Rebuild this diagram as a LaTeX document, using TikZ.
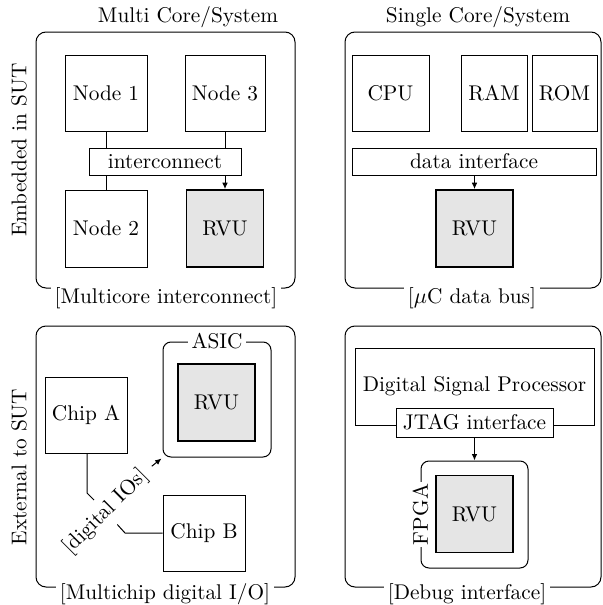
\documentclass[tikz,border=0pt]{standalone}
\usetikzlibrary{arrows.meta}
\begin{document}
\begin{tikzpicture}[x=0.5pt,y=-0.5pt,
  font=\fontsize{10.65}{13}\selectfont,
  line width=0.5pt,
  panel/.style={draw,rounded corners=5pt},
  plabel/.style={fill=white,inner sep=2pt},
  box/.style={draw,inner sep=0pt,align=center},
  rvu/.style={draw,fill=black!10,line width=0.9pt,inner sep=0pt,minimum width=38.5pt,minimum height=38.5pt},
  sub/.style={draw,rounded corners=4pt,inner sep=0pt},
  arr/.style={-{Latex[length=3.2pt,width=2.8pt]}}]
\useasboundingbox (0,0) rectangle (602,605);

% panels
\draw[panel] (36,32) rectangle (295,288);
\draw[panel] (345,32) rectangle (601,288);
\draw[panel] (36,326) rectangle (295,587);
\draw[panel] (345,326) rectangle (601,587);

\node (t1) at (188,17) {Multi Core/System};
\node (t2) at (478,17) {Single Core/System};
\node[plabel] (b1) at (166,298) {[Multicore interconnect]};
\node[plabel] (b2) at (472,298) {[$\mu$C data bus]};
\node[plabel] (b3) at (165,594) {[Multichip digital I/O]};
\node[plabel] (b4) at (467,594) {[Debug interface]};
\node[rotate=90] (s1) at (19,150) {Embedded in SUT};
\node[rotate=90] (s2) at (19,467) {External to SUT};

% top-left
\node[box,minimum width=41pt,minimum height=38pt] (n1) at (106,93) {Node 1};
\node[box,minimum width=40pt,minimum height=38pt] (n3) at (225,93) {Node 3};
\node[box,minimum width=76pt,minimum height=13.5pt] (ic) at (165,161.5) {interconnect};
\node[box,minimum width=41pt,minimum height=38.5pt] (n2) at (106,228.5) {Node 2};
\node[rvu] (r1) at (225,228.5) {RVU};
\draw (n1.south) -- (n1.south |- ic.north);
\draw (ic.south -| n2.north) -- (n2.north);
\draw (n3.south) -- (n3.south |- ic.north);
\draw[arr] (ic.south -| r1.north) -- (r1.north);

% top-right
\node[box,minimum width=38.5pt,minimum height=38pt] (cpu) at (390.5,93) {CPU};
\node[box,minimum width=33pt,minimum height=38pt] (ram) at (494,93) {RAM};
\node[box,minimum width=32.5pt,minimum height=38pt] (rom) at (564.5,93) {ROM};
\node[box,minimum width=122pt,minimum height=13.5pt] (di) at (474,161.5) {data interface};
\node[rvu] (r2) at (474.5,228.5) {RVU};
\draw[arr] (di.south -| r2.north) -- (r2.north);

% bottom-left
\node[box,minimum width=41pt,minimum height=38pt] (ca) at (86,415) {Chip A};
\node[box,minimum width=41pt,minimum height=38pt] (cb) at (204,533) {Chip B};
\node[sub,minimum width=54pt,minimum height=57.5pt] (asic) at (217,399.5) {};
\node[plabel] (asicl) at (asic.north) {ASIC};
\node[rvu] (r3) at (216.5,402.5) {RVU};
\coordinate (k1) at (87,493);
\coordinate (k2) at (125,533);
\draw (ca.south -| k1) -- (k1) -- (106,512);
\draw (cb.west) -- (k2) -- (106,512);
\node[fill=white,rotate=45,inner sep=3pt] (dio) at (106,512) {[digital IOs]};
\coordinate (asw) at (asic.south west);
\draw[arr] ([shift={(2,-2)}]dio.east) -- ([shift={(-1,1)}]asw);

% bottom-right
\node[box,minimum width=119.5pt,minimum height=38.5pt] (dsp) at (474.5,386.5) {Digital Signal Processor};
\node[box,fill=white,minimum width=78.5pt,minimum height=14.5pt] (jtag) at (474.5,422.5) {JTAG interface};
\node[sub,minimum width=53.5pt,minimum height=53.5pt] (fpga) at (474.5,514.5) {};
\node[fill=white,rotate=90,inner sep=1pt] (fpgal) at (fpga.west) {FPGA};
\node[rvu] (r4) at (474.5,514) {RVU};
\draw[arr] (jtag.south) -- (fpga.north);
\end{tikzpicture}
\end{document}
